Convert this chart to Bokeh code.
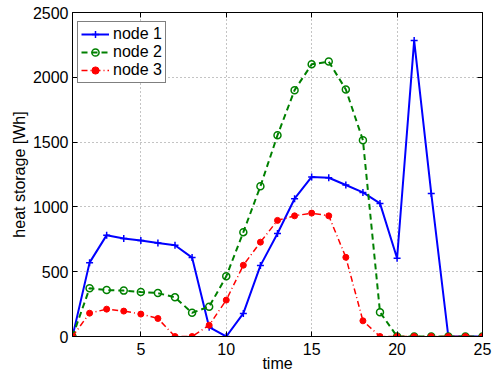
from bokeh.plotting import figure
from bokeh.models import Range1d, LinearAxis, FixedTicker
from bokeh.embed import file_html
from bokeh.resources import INLINE

time = list(range(1, 26))
node1 = [0, 570, 782, 756, 740, 722, 704, 609, 72, 0, 178, 547, 795, 1063, 1231,
         1225, 1169, 1112, 1027, 604, 2283, 1104, 0, 0, 0]
node2 = [0, 372, 358, 354, 343, 335, 302, 183, 230, 464, 805, 1159, 1553, 1901, 2100,
         2121, 1906, 1515, 188, 0, 0, 0, 0, 0, 0]
node3 = [0, 180, 211, 196, 173, 139, 0, 0, 87, 281, 550, 728, 896, 931, 952,
         931, 611, 121, 0, 0, 0, 0, 0, 0, 0]
x_ticks = [5, 10, 15, 20, 25]
y_ticks = [0, 500, 1000, 1500, 2000, 2500]

FONT = "Liberation Sans"
FS = "16px"

p = figure(width=495, height=378, output_backend="svg", toolbar_location=None,
           x_range=Range1d(1, 25), y_range=Range1d(0, 2500),
           min_border_left=72, min_border_top=12, min_border_right=13, min_border_bottom=42)
p.background_fill_color = "white"
p.border_fill_color = "white"
p.outline_line_color = "black"
p.outline_line_width = 1

# data
p.line(time, node1, line_color="#0000FF", line_width=2, legend_label="node 1")
p.scatter(time, node1, marker="cross", size=7, line_color="#0000FF", line_width=1.5,
          legend_label="node 1")
p.line(time, node2, line_color="#008000", line_width=2, line_dash="6 4", legend_label="node 2")
p.scatter(time, node2, marker="circle", size=7, line_color="#008000", fill_color=None,
          line_width=1.5, legend_label="node 2")
p.line(time, node3, line_color="#FF0000", line_width=1.5, line_dash="6 3 1 3",
       legend_label="node 3")
p.scatter(time, node3, marker="circle", size=6, line_color="#FF0000", fill_color="#FF0000",
          legend_label="node 3")

# axes
for ax in [p.xaxis[0], p.yaxis[0]]:
    ax.major_tick_in = 5
    ax.major_tick_out = 0
    ax.minor_tick_in = 0
    ax.minor_tick_out = 0
    ax.axis_line_color = "black"
    ax.major_tick_line_color = "black"
    ax.major_label_text_font = FONT
    ax.major_label_text_font_size = FS
    ax.major_label_text_color = "black"
    ax.axis_label_text_font = FONT
    ax.axis_label_text_font_size = FS
    ax.axis_label_text_font_style = "normal"
    ax.axis_label_text_color = "black"

p.xaxis[0].ticker = FixedTicker(ticks=x_ticks)
p.yaxis[0].ticker = FixedTicker(ticks=y_ticks)
p.xaxis[0].axis_label = "time"
p.yaxis[0].axis_label = "heat storage [Wh]"
p.xaxis[0].major_label_standoff = 6
p.xaxis[0].axis_label_standoff = -3
p.yaxis[0].major_label_standoff = 4
p.yaxis[0].axis_label_standoff = 2

for loc, tk in [("above", x_ticks), ("right", y_ticks)]:
    ax = LinearAxis(ticker=FixedTicker(ticks=tk), major_tick_in=5, major_tick_out=0,
                    minor_tick_in=0, minor_tick_out=0,
                    major_label_overrides={t: "" for t in tk},
                    major_label_standoff=0, axis_line_color="black")
    p.add_layout(ax, loc)

p.xgrid.ticker = FixedTicker(ticks=x_ticks)
p.ygrid.ticker = FixedTicker(ticks=y_ticks)
p.grid.grid_line_color = "#888888"
p.grid.grid_line_dash = "1 3"
p.grid.grid_line_width = 1

# legend
lg = p.legend[0]
lg.location = (5, 253)
lg.margin = 0
lg.padding = 3
lg.spacing = 0
lg.label_height = 18
lg.glyph_height = 18
lg.glyph_width = 28
lg.label_standoff = 4
lg.label_text_font = FONT
lg.label_text_font_size = FS
lg.label_text_color = "black"
lg.border_line_color = "black"
lg.border_line_width = 1
lg.background_fill_color = "white"
lg.background_fill_alpha = 1

open("out.html", "w").write(file_html(p, INLINE))
